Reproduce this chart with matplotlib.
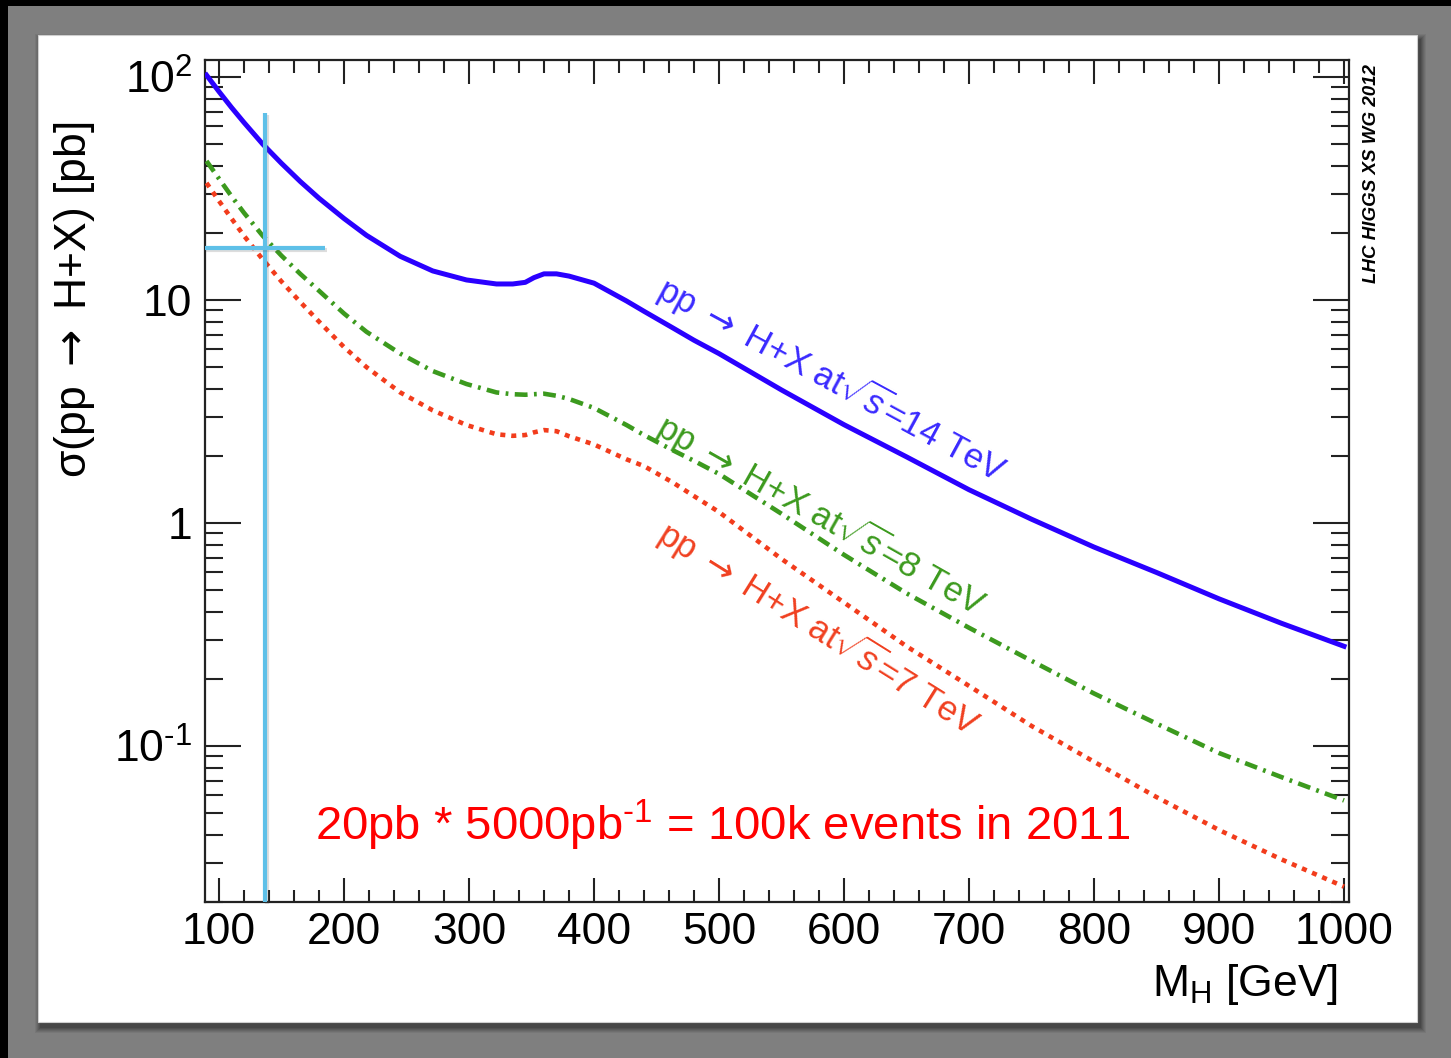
import matplotlib
matplotlib.use("Agg")
import matplotlib.pyplot as plt
from matplotlib.patches import Rectangle
from matplotlib.ticker import FixedLocator, MultipleLocator, LogLocator, NullFormatter, FixedFormatter
import matplotlib.patheffects as pe

plt.rcParams['font.family'] = ['Liberation Sans', 'DejaVu Sans']
plt.rcParams['mathtext.fontset'] = 'custom'
plt.rcParams['mathtext.rm'] = 'Liberation Sans'
plt.rcParams['mathtext.it'] = 'Liberation Sans:italic'
plt.rcParams['mathtext.bf'] = 'Liberation Sans:bold'
plt.rcParams['mathtext.sf'] = 'DejaVu Sans'

# Higgs mass grid [GeV] and total cross sections [pb]
mass = [90, 100, 110, 120, 135, 150, 165, 180, 200, 218, 245, 271, 298, 322, 335,
        345, 352, 360, 370, 380, 400, 426, 440, 463, 480, 500, 550, 600, 650, 700, 750,
        800, 850, 900, 950, 1000]
xs_14tev = [102, 86, 73, 62.5, 50, 41, 34, 28.6, 23.2, 19.5, 15.7, 13.5, 12.3, 11.8, 11.8,
            12.0, 12.6, 13.1, 13.1, 12.8, 11.9, 9.9, 8.9, 7.5, 6.6, 5.75, 3.95, 2.76, 1.98, 1.41, 1.04,
            0.78, 0.60, 0.457, 0.355, 0.28]
xs_8tev = [42, 35, 29.2, 24.6, 19.4, 15.8, 13.1, 11.0, 8.7, 7.2, 5.75, 4.8, 4.2, 3.85, 3.78,
           3.76, 3.78, 3.8, 3.72, 3.6, 3.28, 2.75, 2.48, 2.12, 1.9, 1.66, 1.1, 0.72, 0.484, 0.339, 0.241,
           0.172, 0.126, 0.093, 0.0725, 0.057]
xs_7tev = [33.5, 27.8, 23.2, 19.4, 15.2, 12.1, 9.8, 8.0, 6.15, 5.0, 3.85, 3.2, 2.75, 2.5, 2.46,
           2.48, 2.55, 2.61, 2.58, 2.45, 2.25, 1.93, 1.8, 1.52, 1.32, 1.12, 0.69, 0.44, 0.28, 0.186, 0.123,
           0.085, 0.059, 0.042, 0.031, 0.0234]

x_major = [100, 200, 300, 400, 500, 600, 700, 800, 900, 1000]
y_major = [0.1, 1, 10, 100]
y_labels = ['$10^{\\text{-1}}$', '1', '10', '$10^{2}$']

# working point marked by the cross: M_H ~ 137 GeV, sigma ~ 17 pb
mark_mass = 137
mark_xs = 17.1

ARROW = '$\\mathsf{\\rightarrow}$'

W, H = 1451, 1058
fig = plt.figure(figsize=(W / 100, H / 100), dpi=100)
fig.patch.set_facecolor('#7f7f7f')


def fx(px):
    return px / W


def fy(py):
    return 1 - py / H


# dark edges of the frame
fig.add_artist(Rectangle((0, fy(6)), 1, 6 / H, transform=fig.transFigure,
                         facecolor='black', edgecolor='none', zorder=-20))
fig.add_artist(Rectangle((0, 0), 8 / W, 1, transform=fig.transFigure,
                         facecolor='black', edgecolor='none', zorder=-20))

# white panel with a soft drop shadow
px0, py0, px1, py1 = 38, 35, 1417, 1022
for i, a in enumerate([0.06, 0.07, 0.08, 0.09, 0.10, 0.12]):
    grow = 12 - 2 * i
    fig.add_artist(Rectangle((fx(px0 + 3 - grow / 2), fy(py1 + 5 + grow / 2)),
                             (px1 - px0 + grow) / W, (py1 - py0 + grow) / H,
                             transform=fig.transFigure, facecolor='black', alpha=a,
                             edgecolor='none', zorder=-15))
fig.add_artist(Rectangle((fx(px0), fy(py1)), (px1 - px0) / W, (py1 - py0) / H,
                         transform=fig.transFigure, facecolor='white',
                         edgecolor='#cfcfcf', linewidth=0.8, zorder=-10))

ax = fig.add_axes([fx(205), fy(902), (1349 - 205) / W, (902 - 60) / H])
ax.set_facecolor('white')
ax.set_yscale('log')
ax.set_xlim(88.8, 1004)
ax.set_ylim(0.01997, 119.2)

ax.plot(mass, xs_14tev, color='#2a00ff', lw=3.6, solid_joinstyle='round', zorder=3)
ax.plot(mass, xs_8tev, color='#3c9a1e', lw=3.3, dashes=(2.8, 1.4, 0.6, 1.4), zorder=3)
ax.plot(mass, xs_7tev, color='#f23c1c', lw=3.3, dashes=(1.1, 1.3), zorder=3)

# cross marking the working point
shadow = [pe.SimpleLineShadow(offset=(1, -1.5), alpha=0.2, shadow_color='#555555'), pe.Normal()]
ax.plot([mark_mass, mark_mass], [0.01997, 69], color='#5ec0e8', lw=3.0,
        solid_capstyle='butt', zorder=5, path_effects=shadow, clip_on=False)
ax.plot([88.8, 185], [mark_xs, mark_xs], color='#5ec0e8', lw=3.0,
        solid_capstyle='butt', zorder=5, path_effects=shadow, clip_on=False)

# curve labels
lab_kw = dict(fontsize=25, ha='center', va='center', rotation_mode='anchor', zorder=4)
ax.text(590, 4.4, 'pp ' + ARROW + ' H+X at$\\sqrt{s}$=14 TeV', color='#3a2aff',
        rotation=-28.5, **lab_kw)
ax.text(582, 1.09, 'pp ' + ARROW + ' H+X at$\\sqrt{s}$=8 TeV', color='#3c9a1e',
        rotation=-29.5, **lab_kw)
ax.text(580, 0.338, 'pp ' + ARROW + ' H+X at$\\sqrt{s}$=7 TeV', color='#f04020',
        rotation=-32, **lab_kw)

ax.text(176.8, 0.0378, '20pb * 5000pb$^{\\text{-1}}$ = 100k events in 2011',
        color='#ff0000', fontsize=34, ha='left', va='baseline', zorder=6)

# axes styling
for s in ax.spines.values():
    s.set_linewidth(1.6)
    s.set_color('#222222')

ax.xaxis.set_major_locator(FixedLocator(x_major))
ax.xaxis.set_minor_locator(MultipleLocator(20))
ax.set_xticklabels([str(v) for v in x_major])
ax.yaxis.set_major_locator(FixedLocator(y_major))
ax.yaxis.set_major_formatter(FixedFormatter(y_labels))
ax.yaxis.set_minor_locator(LogLocator(base=10, subs=[2, 3, 4, 5, 6, 7, 8, 9], numticks=20))
ax.yaxis.set_minor_formatter(NullFormatter())

ax.tick_params(axis='both', which='both', direction='in', top=True, right=True,
               color='#222222', width=1.5)
ax.tick_params(axis='x', which='major', length=17, labelsize=32, pad=7)
ax.tick_params(axis='x', which='minor', length=9)
ax.tick_params(axis='y', which='major', length=26, labelsize=32, pad=9)
ax.tick_params(axis='y', which='minor', length=13)

fig.text(fx(75), fy(300), 'σ(pp ' + ARROW + ' H+X) [pb]', rotation=90, fontsize=32,
         ha='center', va='center')
fig.text(fx(1338), fy(996), '$\\mathregular{M_H}$ [GeV]', fontsize=32,
         ha='right', va='baseline')
fig.text(fx(1371), fy(174), 'LHC HIGGS XS WG 2012', rotation=90, fontsize=13.5,
         fontweight='bold', fontstyle='italic', ha='center', va='center')

fig.savefig('out.png', dpi=100, facecolor=fig.get_facecolor())
